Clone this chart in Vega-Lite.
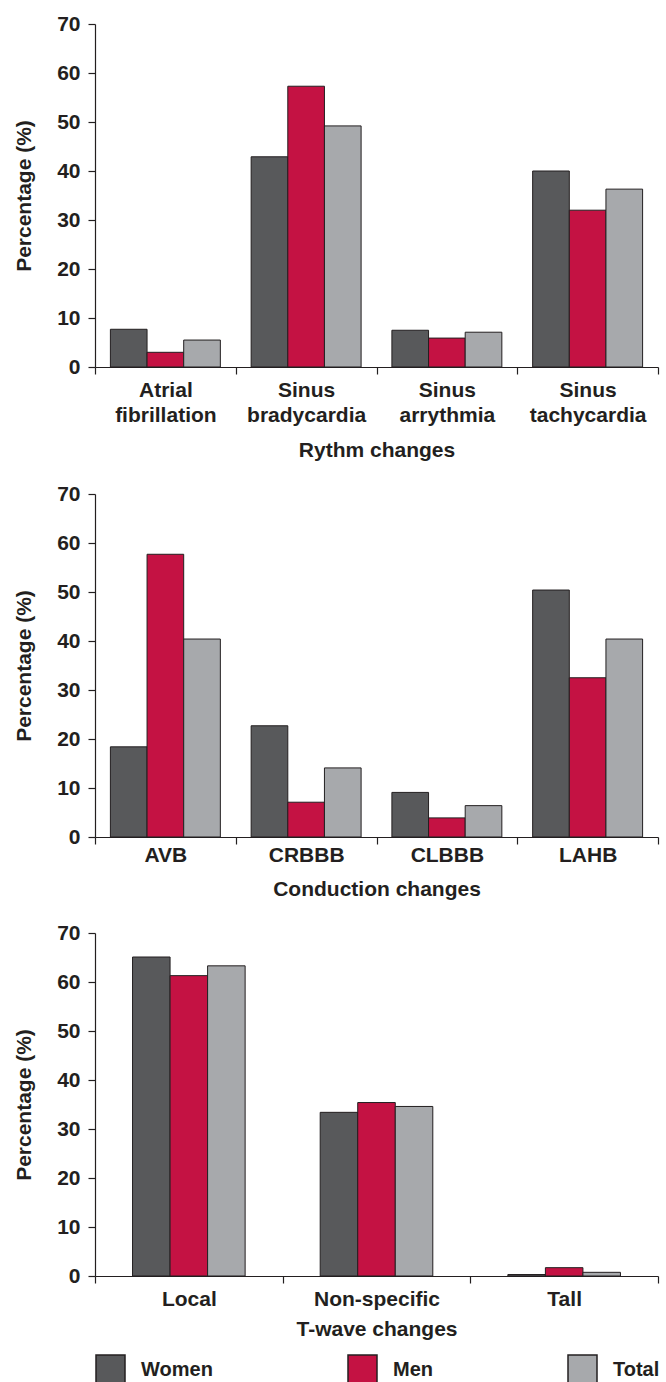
{
  "$schema": "https://vega.github.io/schema/vega-lite/v6.json",
  "padding": {"left": 13, "top": 13, "right": 4, "bottom": 0},
  "background": "white",
  "spacing": 23,
  "resolve": {"scale": {"x": "independent", "xOffset": "independent"}},
  "config": {
    "font": "Liberation Sans",
    "view": {"stroke": null},
    "axis": {
      "labelFont": "Liberation Sans",
      "labelFontWeight": "bold",
      "labelFontSize": 21,
      "labelColor": "#231f20",
      "titleFont": "Liberation Sans",
      "titleFontWeight": "bold",
      "titleFontSize": 21,
      "titleColor": "#231f20",
      "domainColor": "#231f20",
      "domainWidth": 1.2,
      "tickColor": "#231f20",
      "tickWidth": 1.2,
      "tickSize": 7,
      "grid": false
    },
    "axisY": {"labelPadding": 8, "titlePadding": 22, "values": [0, 10, 20, 30, 40, 50, 60, 70]},
    "axisX": {"labelAngle": 0, "tickBand": "extent", "labelPadding": 5, "titlePadding": 14},
    "legend": {
      "labelFont": "Liberation Sans",
      "labelFontWeight": "bold",
      "labelFontSize": 20,
      "labelColor": "#231f20"
    }
  },
  "datasets": {
    "rhythm": [
      {"category": "Atrial fibrillation", "group": "Women", "value": 7.7},
      {"category": "Atrial fibrillation", "group": "Men", "value": 3.0},
      {"category": "Atrial fibrillation", "group": "Total", "value": 5.5},
      {"category": "Sinus bradycardia", "group": "Women", "value": 42.9},
      {"category": "Sinus bradycardia", "group": "Men", "value": 57.3},
      {"category": "Sinus bradycardia", "group": "Total", "value": 49.2},
      {"category": "Sinus arrythmia", "group": "Women", "value": 7.5},
      {"category": "Sinus arrythmia", "group": "Men", "value": 5.9},
      {"category": "Sinus arrythmia", "group": "Total", "value": 7.1},
      {"category": "Sinus tachycardia", "group": "Women", "value": 40.0},
      {"category": "Sinus tachycardia", "group": "Men", "value": 32.0},
      {"category": "Sinus tachycardia", "group": "Total", "value": 36.3}
    ],
    "conduction": [
      {"category": "AVB", "group": "Women", "value": 18.4},
      {"category": "AVB", "group": "Men", "value": 57.7},
      {"category": "AVB", "group": "Total", "value": 40.4},
      {"category": "CRBBB", "group": "Women", "value": 22.7},
      {"category": "CRBBB", "group": "Men", "value": 7.1},
      {"category": "CRBBB", "group": "Total", "value": 14.1},
      {"category": "CLBBB", "group": "Women", "value": 9.1},
      {"category": "CLBBB", "group": "Men", "value": 3.9},
      {"category": "CLBBB", "group": "Total", "value": 6.4},
      {"category": "LAHB", "group": "Women", "value": 50.4},
      {"category": "LAHB", "group": "Men", "value": 32.5},
      {"category": "LAHB", "group": "Total", "value": 40.4}
    ],
    "twave": [
      {"category": "Local", "group": "Women", "value": 65.1},
      {"category": "Local", "group": "Men", "value": 61.3},
      {"category": "Local", "group": "Total", "value": 63.3},
      {"category": "Non-specific", "group": "Women", "value": 33.4},
      {"category": "Non-specific", "group": "Men", "value": 35.4},
      {"category": "Non-specific", "group": "Total", "value": 34.6},
      {"category": "Tall", "group": "Women", "value": 0.3},
      {"category": "Tall", "group": "Men", "value": 1.7},
      {"category": "Tall", "group": "Total", "value": 0.75}
    ]
  },
  "vconcat": [
    {
      "data": {"name": "rhythm"},
      "width": 563,
      "height": 343,
      "mark": {"type": "bar", "stroke": "#231f20", "strokeWidth": 1},
      "encoding": {
        "x": {
          "field": "category", "type": "nominal",
          "sort": ["Atrial fibrillation", "Sinus bradycardia", "Sinus arrythmia", "Sinus tachycardia"],
          "scale": {"paddingInner": 0, "paddingOuter": 0},
          "axis": {"title": "Rythm changes", "labelExpr": "split(datum.label, ' ')", "labelLineHeight": 25}
        },
        "xOffset": {"field": "group", "sort": ["Women", "Men", "Total"], "scale": {"paddingInner": 0, "paddingOuter": 0.42}},
        "y": {"field": "value", "type": "quantitative", "scale": {"domain": [0, 70]}, "axis": {"title": "Percentage (%)"}},
        "color": {
          "field": "group", "type": "nominal", "sort": ["Women", "Men", "Total"],
          "scale": {"domain": ["Women", "Men", "Total"], "range": ["#58595b", "#c41243", "#a7a9ac"]},
          "legend": {
            "title": null, "orient": "bottom", "direction": "horizontal",
            "symbolType": "square", "symbolSize": 841, "symbolStrokeColor": "#231f20", "symbolStrokeWidth": 1.5,
            "symbolOpacity": 1, "labelOffset": 15, "columnPadding": 132, "offset": 15
          }
        }
      }
    },
    {
      "data": {"name": "conduction"},
      "width": 563,
      "height": 343,
      "mark": {"type": "bar", "stroke": "#231f20", "strokeWidth": 1},
      "encoding": {
        "x": {
          "field": "category", "type": "nominal",
          "sort": ["AVB", "CRBBB", "CLBBB", "LAHB"],
          "scale": {"paddingInner": 0, "paddingOuter": 0},
          "axis": {"title": "Conduction changes", "labelPadding": 0, "titlePadding": 13}
        },
        "xOffset": {"field": "group", "sort": ["Women", "Men", "Total"], "scale": {"paddingInner": 0, "paddingOuter": 0.42}},
        "y": {"field": "value", "type": "quantitative", "scale": {"domain": [0, 70]}, "axis": {"title": "Percentage (%)"}},
        "color": {"field": "group", "type": "nominal", "sort": ["Women", "Men", "Total"]}
      }
    },
    {
      "data": {"name": "twave"},
      "width": 563,
      "height": 343,
      "mark": {"type": "bar", "stroke": "#231f20", "strokeWidth": 1},
      "encoding": {
        "x": {
          "field": "category", "type": "nominal",
          "sort": ["Local", "Non-specific", "Tall"],
          "scale": {"paddingInner": 0, "paddingOuter": 0},
          "axis": {"title": "T-wave changes", "titlePadding": 9}
        },
        "xOffset": {"field": "group", "sort": ["Women", "Men", "Total"], "scale": {"paddingInner": 0, "paddingOuter": 1.07}},
        "y": {"field": "value", "type": "quantitative", "scale": {"domain": [0, 70]}, "axis": {"title": "Percentage (%)"}},
        "color": {"field": "group", "type": "nominal", "sort": ["Women", "Men", "Total"]}
      }
    }
  ]
}
